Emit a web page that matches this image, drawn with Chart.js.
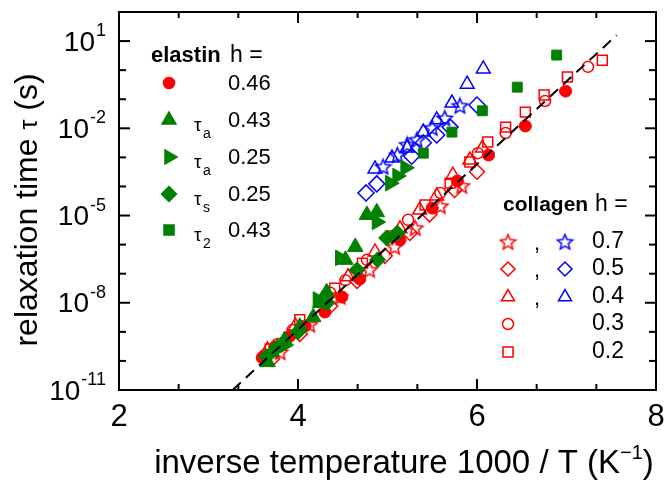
<!DOCTYPE html>
<html>
<head>
<meta charset="utf-8">
<script src="https://cdn.jsdelivr.net/npm/chart.js@4.4.0/dist/chart.umd.min.js"></script>
<style>
html, body { margin: 0; padding: 0; background: #ffffff; }
canvas { display: block; }
</style>
</head>
<body>
<canvas id="relaxChart" width="668" height="481"></canvas>
<script>
// x = 1000/T (1/K), tau in seconds
const elastin46X   = [3.60, 3.74, 3.91, 4.08, 4.30, 4.49, 4.69, 5.14, 5.50, 5.78, 6.13, 6.54, 6.99];
const elastin46Tau = [1.3e-10, 3.0e-10, 7.2e-10, 1.6e-9, 4.8e-9, 1.6e-8, 6.6e-8, 1.45e-6, 1.8e-5, 1.55e-4, 1.2e-3, 1.2e-2, 0.19];

const elastinTa43X   = [3.66, 3.71, 3.85, 4.02, 4.17, 4.25, 4.32, 4.53, 4.64, 4.77, 4.88];
const elastinTa43Tau = [9.1e-11, 2.0e-10, 5.2e-10, 1.5e-9, 3.2e-9, 9.8e-9, 2.3e-8, 3.0e-7, 8.3e-7, 1.05e-5, 1.3e-5];

const elastinTa25X   = [3.85, 4.22, 4.47, 4.88, 5.03, 5.11, 5.20];
const elastinTa25Tau = [3.5e-10, 1.3e-8, 3.5e-7, 6.0e-6, 1.3e-4, 2.3e-4, 4.4e-4];

const elastinTs25X   = [3.65, 3.77, 4.00, 4.32, 4.66, 4.89, 4.99, 5.11];
const elastinTs25Tau = [1.4e-10, 3.0e-10, 1.0e-9, 9.8e-9, 1.35e-7, 3.0e-7, 1.7e-6, 2.5e-6];

const elastinT243X   = [5.40, 5.72, 6.06, 6.45, 6.89];
const elastinT243Tau = [1.4e-3, 7.4e-3, 4.0e-2, 0.26, 3.3];

const collagenBlue4X   = [4.86, 5.05, 5.22, 5.40, 5.55, 5.72, 5.89, 6.07];
const collagenBlue4Tau = [4.0e-4, 9.5e-4, 2.1e-3, 7.4e-3, 1.95e-2, 7.4e-2, 0.33, 1.1];

const collagenBlue7X   = [4.95, 5.11, 5.22, 5.33, 5.50, 5.64, 5.81];
const collagenBlue7Tau = [4.7e-4, 1.2e-3, 2.7e-3, 4.0e-3, 1.02e-2, 2.2e-2, 5.9e-2];

const collagenBlue5X   = [4.76, 4.88, 5.27, 5.40, 5.55, 5.70, 6.00];
const collagenBlue5Tau = [6.0e-5, 1.23e-4, 1.1e-3, 3.2e-3, 5.9e-3, 1.1e-2, 6.3e-2];

const collagenRed4X   = [3.66, 3.97, 4.27, 4.56, 4.86, 5.14, 5.36, 5.55, 5.73, 5.92, 6.06];
const collagenRed4Tau = [2.4e-10, 1.6e-9, 1.3e-8, 7.8e-8, 5.6e-7, 3.5e-6, 1.55e-5, 4.7e-5, 2.45e-4, 8.1e-4, 2.1e-3];

const collagenRed5X   = [3.71, 4.02, 4.36, 4.66, 4.97, 5.25, 5.47, 5.75, 6.00];
const collagenRed5Tau = [1.17e-10, 8.5e-10, 7.8e-9, 5.6e-8, 4.1e-7, 2.5e-6, 1.1e-5, 7.6e-5, 3.2e-4];

const collagenRed7X   = [3.80, 4.13, 4.47, 4.80, 5.08, 5.31, 5.59, 5.83];
const collagenRed7Tau = [2.0e-10, 1.75e-9, 1.6e-8, 1.35e-7, 8.3e-7, 3.7e-6, 2.1e-5, 1.05e-4];

const collagen3X   = [3.63, 3.77, 3.94, 4.36, 4.53, 4.77, 5.23, 5.59, 6.01, 6.32, 6.76, 7.24];
const collagen3Tau = [1.6e-10, 3.8e-10, 1.15e-9, 2.2e-8, 6.0e-8, 3.0e-7, 7.1e-6, 6.0e-5, 1.4e-3, 6.9e-3, 8.7e-2, 1.3];

const collagen2X   = [3.69, 4.02, 4.41, 4.72, 5.05, 5.42, 5.70, 5.92, 6.12, 6.32, 6.54, 6.75, 7.01, 7.40];
const collagen2Tau = [2.6e-10, 2.6e-9, 3.2e-8, 2.3e-7, 2.0e-6, 2.3e-5, 1.3e-4, 6.9e-4, 3.4e-3, 1.1e-2, 3.6e-2, 0.14, 0.58, 2.2];

// dashed guide line, end points
const fitLineX   = [3.27, 7.56];
const fitLineTau = [1e-11, 16];

// axis ticks
const xLabelValues = [2, 4, 6, 8];
const xMinorValues = [8 / 3, 10 / 3, 14 / 3, 16 / 3, 20 / 3, 22 / 3];
const yLabelExponents = [1, -2, -5, -8, -11];
const yDecadeExponents = [2, 1, 0, -1, -2, -3, -4, -5, -6, -7, -8, -9, -10, -11];

const RED = '#ff0000';
const GREEN = '#008000';
const BLUE = '#0000ff';
const FONT = "'Liberation Sans', Arial, sans-serif";

function makeStar(color) {
    const c = document.createElement('canvas');
    c.width = 19;
    c.height = 19;
    const g = c.getContext('2d');
    const R = 8, r = 3.6, cx = 9.5, cy = 10;
    g.beginPath();
    for (let i = 0; i < 10; i++) {
        const ang = -Math.PI / 2 + i * Math.PI / 5;
        const rr = i % 2 ? r : R;
        g.lineTo(cx + rr * Math.cos(ang), cy + rr * Math.sin(ang));
    }
    g.closePath();
    g.strokeStyle = color;
    g.lineWidth = 1.5;
    g.stroke();
    return c;
}

const redStar = makeStar(RED);
const blueStar = makeStar(BLUE);

function scatterSet(label, xs, taus, style) {
    return Object.assign({
        label,
        data: xs.map((x, i) => ({ x, y: taus[i] })),
        showLine: false
    }, style);
}

const filled = (color, shape, radius, rotation) => ({
    pointStyle: shape, pointRadius: radius, pointRotation: rotation || 0,
    pointBackgroundColor: color, pointBorderColor: color, pointBorderWidth: 1
});
const open = (color, shape, radius) => ({
    pointStyle: shape, pointRadius: radius,
    pointBackgroundColor: 'rgba(0,0,0,0)', pointBorderColor: color, pointBorderWidth: 1.5
});

const datasets = [
    {
        label: 'fit',
        data: fitLineX.map((x, i) => ({ x, y: fitLineTau[i] })),
        showLine: true,
        borderColor: '#000000',
        borderWidth: 2,
        borderDash: [11, 7],
        pointRadius: 0
    },
    scatterSet('elastin tau_a 0.43', elastinTa43X, elastinTa43Tau, filled(GREEN, 'triangle', 9)),
    scatterSet('elastin tau_a 0.25', elastinTa25X, elastinTa25Tau, filled(GREEN, 'triangle', 9, 90)),
    scatterSet('elastin tau_s 0.25', elastinTs25X, elastinTs25Tau, filled(GREEN, 'rectRot', 8)),
    scatterSet('elastin tau_2 0.43', elastinT243X, elastinT243Tau, filled(GREEN, 'rect', 7)),
    scatterSet('elastin 0.46', elastin46X, elastin46Tau, filled(RED, 'circle', 6)),
    scatterSet('collagen 0.4 blue', collagenBlue4X, collagenBlue4Tau, open(BLUE, 'triangle', 8)),
    scatterSet('collagen 0.7 blue', collagenBlue7X, collagenBlue7Tau, open(BLUE, blueStar, 8)),
    scatterSet('collagen 0.5 blue', collagenBlue5X, collagenBlue5Tau, open(BLUE, 'rectRot', 8)),
    scatterSet('collagen 0.4 red', collagenRed4X, collagenRed4Tau, open(RED, 'triangle', 8)),
    scatterSet('collagen 0.5 red', collagenRed5X, collagenRed5Tau, open(RED, 'rectRot', 7.5)),
    scatterSet('collagen 0.7 red', collagenRed7X, collagenRed7Tau, open(RED, redStar, 8)),
    scatterSet('collagen 0.3', collagen3X, collagen3Tau, open(RED, 'circle', 5.5)),
    scatterSet('collagen 0.2', collagen2X, collagen2Tau, open(RED, 'rect', 7))
];

function drawMarker(ctx, kind, color, x, y, r, isFilled) {
    ctx.save();
    ctx.strokeStyle = color;
    ctx.fillStyle = color;
    ctx.lineWidth = 1.5;
    if (kind === 'star') {
        const img = color === RED ? redStar : blueStar;
        ctx.drawImage(img, x - img.width / 2, y - img.height / 2);
        ctx.restore();
        return;
    }
    ctx.beginPath();
    if (kind === 'circle') {
        ctx.arc(x, y, r, 0, Math.PI * 2);
    } else if (kind === 'triangle' || kind === 'right') {
        const rot = kind === 'right' ? Math.PI / 2 : 0;
        for (let i = 0; i < 3; i++) {
            const a = rot + i * 2 * Math.PI / 3;
            ctx.lineTo(x + Math.sin(a) * r, y - Math.cos(a) * r);
        }
        ctx.closePath();
    } else if (kind === 'diamond') {
        ctx.moveTo(x, y - r);
        ctx.lineTo(x + r, y);
        ctx.lineTo(x, y + r);
        ctx.lineTo(x - r, y);
        ctx.closePath();
    } else if (kind === 'square') {
        ctx.rect(x - r, y - r, 2 * r, 2 * r);
    }
    if (isFilled) ctx.fill();
    ctx.stroke();
    ctx.restore();
}

const frameAndText = {
    id: 'frameAndText',
    afterDraw(chart) {
        const { ctx, chartArea: a } = chart;
        const xs = chart.scales.x;
        const ys = chart.scales.y;
        ctx.save();
        ctx.strokeStyle = '#000000';
        ctx.fillStyle = '#000000';
        ctx.lineWidth = 2;
        ctx.strokeRect(a.left, a.top, a.right - a.left, a.bottom - a.top);

        const tick = (x1, y1, x2, y2) => {
            ctx.beginPath();
            ctx.moveTo(x1, y1);
            ctx.lineTo(x2, y2);
            ctx.stroke();
        };
        xLabelValues.forEach(v => {
            const px = xs.getPixelForValue(v);
            tick(px, a.bottom, px, a.bottom - 11);
            tick(px, a.top, px, a.top + 11);
        });
        xMinorValues.forEach(v => {
            const px = xs.getPixelForValue(v);
            tick(px, a.bottom, px, a.bottom - 6);
            tick(px, a.top, px, a.top + 6);
        });
        yDecadeExponents.forEach(e => {
            const py = ys.getPixelForValue(Math.pow(10, e));
            const len = yLabelExponents.includes(e) ? 11 : 7;
            tick(a.left, py, a.left + len, py);
            tick(a.right, py, a.right - len, py);
        });

        // x tick labels
        ctx.font = '31px ' + FONT;
        ctx.textAlign = 'center';
        ctx.textBaseline = 'middle';
        xLabelValues.forEach(v => {
            ctx.fillText(String(v), xs.getPixelForValue(v), a.bottom + 27);
        });

        // y tick labels 10^n, right aligned
        ctx.textAlign = 'right';
        yLabelExponents.forEach(e => {
            const py = ys.getPixelForValue(Math.pow(10, e));
            ctx.font = '18px ' + FONT;
            ctx.textBaseline = 'middle';
            const sup = String(e);
            ctx.fillText(sup, 106, py - 10);
            const ew = ctx.measureText(sup).width;
            ctx.font = '28px ' + FONT;
            ctx.fillText('10', 106 - ew - 1, py + 2);
        });
        ctx.textAlign = 'left';

        // x axis title
        ctx.textBaseline = 'alphabetic';
        const xt1 = 'inverse temperature 1000 / T (K';
        ctx.font = '33px ' + FONT;
        const w1 = ctx.measureText(xt1).width;
        ctx.font = '20px ' + FONT;
        const w2 = ctx.measureText('\u22121').width;
        ctx.font = '33px ' + FONT;
        const w3 = ctx.measureText(')').width;
        const sx = 404 - (w1 + w2 + w3) / 2;
        ctx.fillText(xt1, sx, 473);
        ctx.font = '20px ' + FONT;
        ctx.fillText('\u22121', sx + w1, 459);
        ctx.font = '33px ' + FONT;
        ctx.fillText(')', sx + w1 + w2, 473);

        // y axis title
        ctx.save();
        ctx.translate(37, 210);
        ctx.rotate(-Math.PI / 2);
        const yt1 = 'relaxation time ';
        const yt3 = ' (s)';
        ctx.font = '32px ' + FONT;
        const yw1 = ctx.measureText(yt1).width;
        const yw3 = ctx.measureText(yt3).width;
        ctx.font = '25px ' + FONT;
        const yw2 = ctx.measureText('\u03c4').width;
        const sy = -(yw1 + yw2 + yw3) / 2;
        ctx.font = '32px ' + FONT;
        ctx.fillText(yt1, sy, 0);
        ctx.font = '25px ' + FONT;
        ctx.fillText('\u03c4', sy + yw1, 0);
        ctx.font = '32px ' + FONT;
        ctx.fillText(yt3, sy + yw1 + yw2, 0);
        ctx.restore();

        // elastin legend
        ctx.font = 'bold 22px ' + FONT;
        ctx.fillText('elastin', 151, 62);
        ctx.font = '23px ' + FONT;
        ctx.fillText('h =', 230, 62);
        const eRows = [83, 120, 157, 194, 230];
        const eValues = ['0.46', '0.43', '0.25', '0.25', '0.43'];
        const eSubs = [null, 'a', 'a', 's', '2'];
        const eMarks = [['circle', 5.5], ['triangle', 8], ['right', 8], ['diamond', 7.5], ['square', 5]];
        eRows.forEach((ry, i) => {
            const col = i === 0 ? RED : GREEN;
            drawMarker(ctx, eMarks[i][0], col, 169, ry, eMarks[i][1], true);
            ctx.fillStyle = '#000000';
            ctx.textBaseline = 'middle';
            ctx.font = '22px ' + FONT;
            ctx.fillText(eValues[i], 228, ry + 1);
            if (eSubs[i]) {
                ctx.textBaseline = 'alphabetic';
                ctx.font = '19px ' + FONT;
                ctx.fillText('\u03c4', 194, ry + 11);
                ctx.font = '14px ' + FONT;
                ctx.fillText(eSubs[i], 203, ry + 18);
            }
        });

        // collagen legend
        ctx.textBaseline = 'alphabetic';
        ctx.font = 'bold 21px ' + FONT;
        ctx.fillText('collagen', 503, 211);
        ctx.font = '23px ' + FONT;
        ctx.fillText('h =', 595, 211);
        const cRows = [242, 269, 297, 324, 352];
        const cValues = ['0.7', '0.5', '0.4', '0.3', '0.2'];
        const cMarks = [['star', 0], ['diamond', 7], ['triangle', 7.5], ['circle', 5.5], ['square', 5]];
        cRows.forEach((ry, i) => {
            drawMarker(ctx, cMarks[i][0], RED, 508, ry, cMarks[i][1], false);
            if (i < 3) {
                drawMarker(ctx, cMarks[i][0], BLUE, 565, ry, cMarks[i][1], false);
                ctx.fillStyle = '#000000';
                ctx.textBaseline = 'alphabetic';
                ctx.font = '22px ' + FONT;
                ctx.fillText(',', 534, ry + 8);
            }
            ctx.fillStyle = '#000000';
            ctx.textBaseline = 'middle';
            ctx.font = '23px ' + FONT;
            ctx.fillText(cValues[i], 592, ry);
        });
        ctx.restore();
    }
};

const ctx = document.getElementById('relaxChart').getContext('2d');
new Chart(ctx, {
    type: 'scatter',
    data: { datasets },
    options: {
        responsive: false,
        animation: false,
        events: [],
        layout: { padding: { left: 119, right: 12, top: 12, bottom: 91 } },
        plugins: {
            legend: { display: false },
            tooltip: { enabled: false }
        },
        scales: {
            x: { type: 'linear', min: 2, max: 8, display: false },
            y: { type: 'logarithmic', min: 1e-11, max: 100, display: false }
        }
    },
    plugins: [frameAndText]
});
</script>
</body>
</html>
